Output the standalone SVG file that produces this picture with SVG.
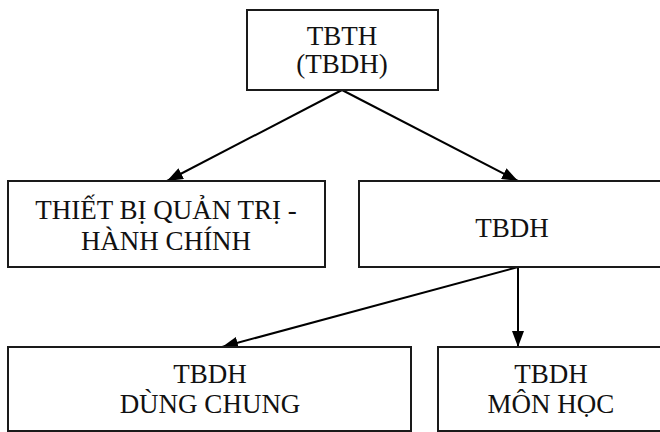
<svg xmlns="http://www.w3.org/2000/svg" width="660" height="432" viewBox="0 0 660 432">
<style>
.box{fill:#fff;stroke:#1a1a1a;stroke-width:2}
.t{font-family:"Liberation Serif","Times New Roman",serif;font-size:27px;fill:#111;text-anchor:middle}
.c{stroke:#000;stroke-width:2;fill:none}
</style>
<defs>
<marker id="ah" markerWidth="16" markerHeight="12" refX="16" refY="6" orient="auto" markerUnits="userSpaceOnUse">
<path d="M0,0 L16,6 L0,12 Z" fill="#000"/>
</marker>
</defs>
<rect width="660" height="432" fill="#fff"/>
<g id="connectors">
<line class="c" x1="342" y1="90" x2="167" y2="181" marker-end="url(#ah)"/>
<line class="c" x1="342" y1="90" x2="518" y2="181" marker-end="url(#ah)"/>
<line class="c" x1="518" y1="267" x2="222" y2="347" marker-end="url(#ah)"/>
<line class="c" x1="518" y1="267" x2="518" y2="347" marker-end="url(#ah)"/>
</g>
<g id="node-tbth">
<rect class="box" x="247" y="10" width="191" height="80"/>
<text class="t" x="342" y="45">TBTH</text>
<text class="t" x="342" y="73">(TBDH)</text>
</g>
<g id="node-qtri">
<rect class="box" x="8" y="181" width="317" height="86"/>
<text class="t" x="166" y="219">THIẾT BỊ QUẢN TRỊ -</text>
<text class="t" x="166" y="250">HÀNH CHÍNH</text>
</g>
<g id="node-tbdh">
<rect class="box" x="359" y="181" width="306" height="86"/>
<text class="t" x="512" y="237">TBDH</text>
</g>
<g id="node-chung">
<rect class="box" x="8" y="347" width="403" height="84"/>
<text class="t" x="210" y="383">TBDH</text>
<text class="t" x="210" y="413">DÙNG CHUNG</text>
</g>
<g id="node-mon">
<rect class="box" x="438" y="347" width="228" height="84"/>
<text class="t" x="551" y="383">TBDH</text>
<text class="t" x="551" y="413">MÔN HỌC</text>
</g>
</svg>
